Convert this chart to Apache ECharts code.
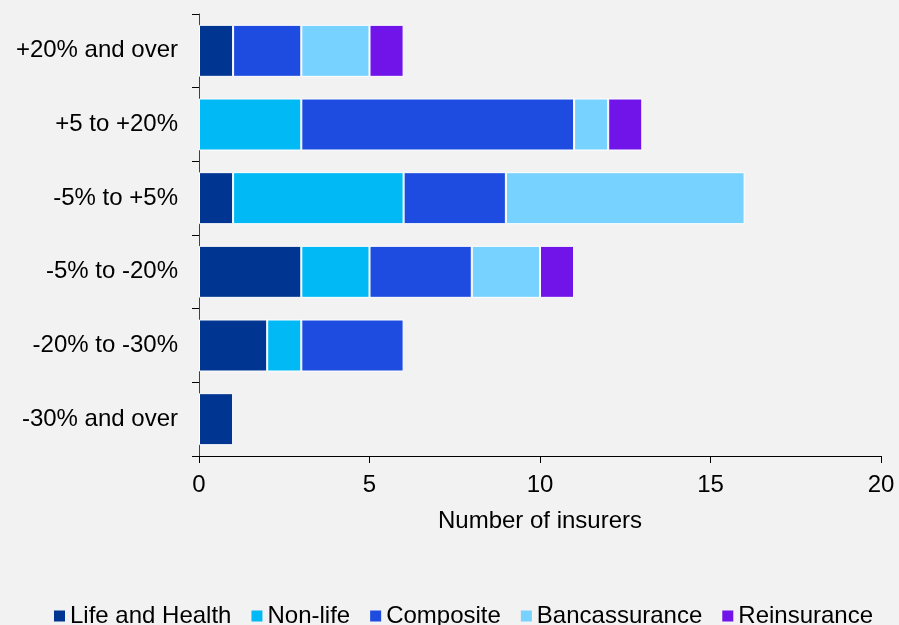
<!DOCTYPE html>
<html><head><meta charset="utf-8">
<script src="https://cdn.jsdelivr.net/npm/echarts@6/dist/echarts.min.js"></script>
<style>html,body{margin:0;padding:0;background:#f2f2f2}#c{width:899px;height:625px}</style>
</head><body><div id="c"></div>
<script>
const categories = ['-30% and over','-20% to -30%','-5% to -20%','-5% to +5%','+5 to +20%','+20% and over'];
const lifeHealth = [1,2,3,1,0,1];
const nonLife = [0,1,2,5,3,0];
const composite = [0,3,3,3,8,2];
const bancassurance = [0,0,2,7,1,2];
const reinsurance = [0,0,1,0,1,1];
const xTicks = [0,5,10,15,20];

const names = ['Life and Health','Non-life','Composite','Bancassurance','Reinsurance'];
const colors = ['#003591','#00b9f5','#1f4ce0','#78d2ff','#7014ea'];
const datas = [lifeHealth,nonLife,composite,bancassurance,reinsurance];
const font = 'Liberation Sans, Arial, sans-serif';

const chart = echarts.init(document.getElementById('c'));
chart.setOption({
  backgroundColor:'#f2f2f2',
  animation:false,
  grid:{left:199,right:18,top:14,bottom:169,containLabel:false},
  xAxis:{type:'value',min:xTicks[0],max:xTicks[xTicks.length-1],interval:5,
    name:'Number of insurers',nameLocation:'middle',nameGap:53,
    nameTextStyle:{fontFamily:font,fontSize:24,color:'#000'},
    axisLine:{show:true,lineStyle:{color:'#000',width:1}},
    axisTick:{show:true,length:7,lineStyle:{color:'#000'}},
    axisLabel:{fontFamily:font,fontSize:24,color:'#000',margin:17},
    splitLine:{show:false}},
  yAxis:{type:'category',data:categories,
    axisLine:{show:true,lineStyle:{color:'#404040',width:1}},
    axisTick:{show:true,length:7,alignWithLabel:false,lineStyle:{color:'#000'}},
    axisLabel:{fontFamily:font,fontSize:24,color:'#000',margin:21}},
  legend:{top:599,left:49,itemWidth:11,itemHeight:11,itemGap:20,icon:'rect',
    itemStyle:{borderWidth:0},
    textStyle:{fontFamily:font,fontSize:24,color:'#000'},
    data:names},
  series:names.map((n,i)=>({name:n,type:'bar',stack:'s',data:datas[i].map(v=>v===0?null:v),
    barWidth:52,itemStyle:{color:colors[i],borderColor:'#ffffff',borderWidth:1}}))
});
</script></body></html>
